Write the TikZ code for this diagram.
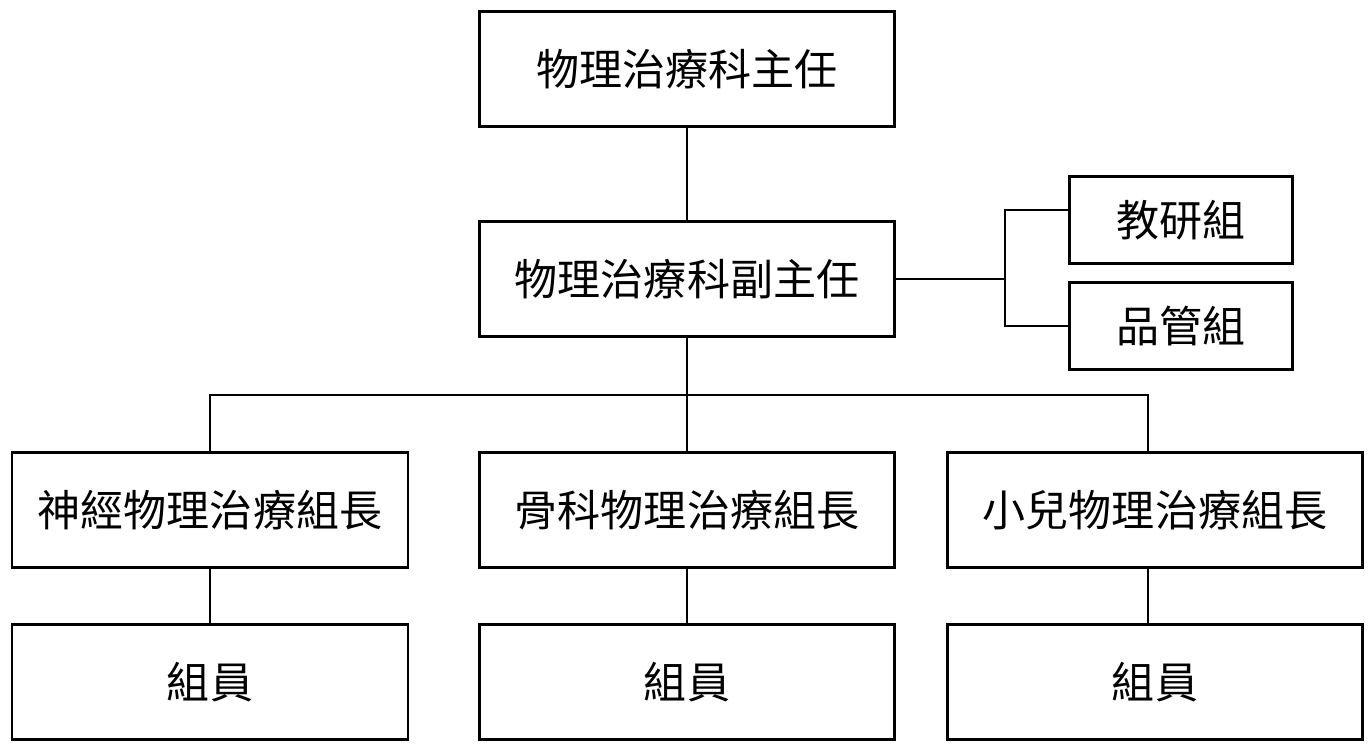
\documentclass[tikz,border=0pt]{standalone}
\usepackage{fontspec}
\setmainfont{Noto Sans CJK TC}
\begin{document}
\begin{tikzpicture}[x=0.02cm,y=-0.02cm,
    box/.style={draw,line width=1.6pt,inner sep=0pt,font=\fontsize{24.5}{28}\selectfont},
    wide/.style={box,minimum width=8.3cm,minimum height=2.3cm},
    small/.style={box,minimum width=4.46cm,minimum height=1.74cm},
    link/.style={line width=1.6pt}]
    \useasboundingbox (0,0) rectangle (1370,745);

    % Director and deputy
    \node[wide] (chief) at (687,69) {物理治療科主任};
    \node[wide] (deputy) at (687,279) {物理治療科副主任};

    % Side groups
    \node[small] (teach) at (1181,220) {教研組};
    \node[small] (quality) at (1181,326) {品管組};
    \coordinate (fork) at (1005,279);

    % Team leaders
    \node[box,minimum width=7.92cm,minimum height=2.3cm] (neuro) at (210,510) {神經物理治療組長};
    \node[wide] (ortho) at (687,510) {骨科物理治療組長};
    \node[wide] (pedi) at (1155,510) {小兒物理治療組長};
    \coordinate (bus) at (687,395);

    % Members
    \node[box,minimum width=7.92cm,minimum height=2.3cm] (m1) at (210,682) {組員};
    \node[wide] (m2) at (687,682) {組員};
    \node[wide] (m3) at (1155,682) {組員};

    % Connectors
    \draw[link] (chief) -- (deputy);
    \draw[link] (deputy) -- (fork);
    \draw[link] ([yshift=0.2cm]teach.west) -| (fork) |- (quality.west);
    \draw[link] (deputy) -- (ortho);
    \draw[link] (neuro.north) |- (bus) -| ([xshift=-0.14cm]pedi.north);
    \draw[link] (neuro) -- (m1);
    \draw[link] (ortho) -- (m2);
    \draw[link] ([xshift=-0.14cm]pedi.south) -- ([xshift=-0.14cm]m3.north);
\end{tikzpicture}
\end{document}
